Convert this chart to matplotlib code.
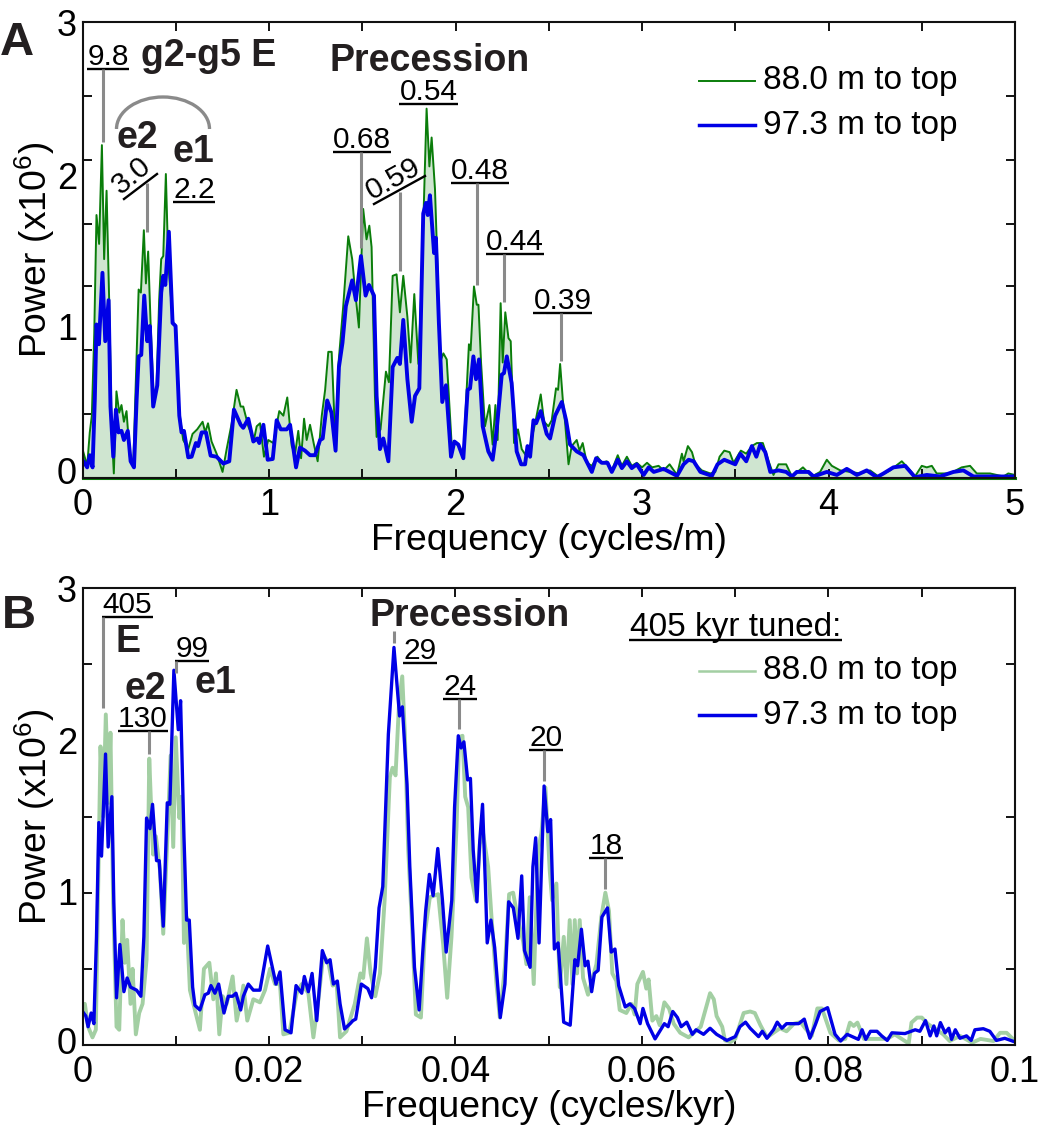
import matplotlib
matplotlib.use("Agg")
import matplotlib.pyplot as plt
from matplotlib.patches import Arc

plt.rcParams['font.family'] = ['Liberation Sans', 'DejaVu Sans']
plt.rcParams['mathtext.default'] = 'regular'

# panel A, 88.0 m
freq_a_green = [0, .025, .039, .05, .063, .075, .089, .104, .116, .129, .143, .157, .168, .182, .197, .209, .222, .236, .254, .272,
                .286, .301, .313, .329, .34, .352, .365, .383, .397, .411, .422, .433, .447, .46, .472, .487, .501, .519, .54, .567,
                .59, .615, .644, .658, .673, .692, .719, .751, .773, .8, .826, .848, .862, .889, .919, .934, .952, .973, .996, 1.023,
                1.055, 1.077, 1.098, 1.122, 1.14, 1.157, 1.172, 1.188, 1.202, 1.22, 1.241, 1.261, 1.283, 1.301, 1.318, 1.336, 1.35, 1.359,
                1.371, 1.398, 1.425, 1.446, 1.461, 1.482, 1.505, 1.523, 1.538, 1.55, 1.568, 1.577, 1.598, 1.627, 1.643, 1.663, 1.684, 1.702,
                1.72, 1.742, 1.759, 1.779, 1.801, 1.818, 1.845, 1.86, 1.872, 1.89, 1.903, 1.917, 1.935, 1.953, 1.979, 2.015, 2.042, 2.06,
                2.072, 2.081, 2.099, 2.114, 2.123, 2.137, 2.158, 2.182, 2.199, 2.214, 2.226, 2.242, 2.253, 2.267, 2.284, 2.296, 2.314, 2.335,
                2.355, 2.382, 2.403, 2.427, 2.457, 2.475, 2.498, 2.516, 2.539, 2.55, 2.561, 2.575, 2.588, 2.606, 2.623, 2.65, 2.665, 2.682,
                2.704, 2.731, 2.761, 2.785, 2.811, 2.838, 2.87, 2.892, 2.919, 2.945, 2.972, 3.0, 3.027, 3.054, 3.089, 3.116, 3.148, 3.188,
                3.214, 3.223, 3.246, 3.268, 3.286, 3.321, 3.366, 3.393, 3.416, 3.441, 3.47, 3.491, 3.53, 3.559, 3.589, 3.616, 3.648, 3.679,
                3.705, 3.732, 3.773, 3.804, 3.863, 3.911, 3.955, 3.991, 4.018, 4.063, 4.116, 4.17, 4.223, 4.268, 4.33, 4.393, 4.438, 4.464,
                4.5, 4.527, 4.554, 4.58, 4.652, 4.714, 4.759, 4.795, 4.866, 4.938, 4.964, 5.0]
power_a_green = [.19, .08, .30, .41, .95, 1.73, 1.54, 2.19, 1.44, 1.89, 1.17, .30, .03, .57, .43, .48, .37, .44, .14, .08,
                 .63, 1.24, 1.22, 1.63, 1.28, 1.49, 1.02, .49, .60, 1.17, 1.44, 1.46, 2.0, 1.41, 1.22, 1.02, 1.0, .43, .25, .19,
                 .29, .32, .37, .30, .36, .24, .16, .04, .19, .36, .58, .47, .47, .34, .25, .34, .36, .14, .25, .23,
                 .44, .41, .53, .21, .16, .31, .13, .39, .25, .35, .22, .11, .41, .58, .83, .83, .41, .175,
                 .73, 1.13, 1.59, 1.44, 1.24, .99, 1.77, 1.57, 1.66, 1.52, .54, .27, .32, .70, .63, 1.33, 1.34, 1.09,
                 1.33, 1.06, .76, 1.21, .75, 1.28, 2.43, 2.05, 2.24, 1.90, 1.41, .76, .82, .78, .23, .22, .14, .58,
                 .88, .84, 1.26, 1.14, 1.14, .76, .34, .48, .22, .48, .25, 1.15, .76, 1.09, .92, .90, .23, .32,
                 .19, .14, .23, .36, .55, .37, .34, .38, .59, .58, .75, .52, .36, .09, .21, .25, .18, .23,
                 .10, .08, .14, .10, .11, .05, .15, .08, .14, .08, .10, .07, .10, .07, .08, .05, .09, .02,
                 .16, .11, .21, .17, .09, .05, .03, .04, .14, .18, .17, .10, .18, .16, .21, .23, .23, .11,
                 .02, .09, .09, .01, .07, .01, .04, .12, .08, .05, .04, .03, .05, .01, .05, .11, .05, .01,
                 .08, .07, .08, .03, .03, .07, .08, .03, .03, .01, .03, .02]

# panel A, 97.3 m
freq_a_blue = [0, .025, .039, .054, .066, .075, .088, .107, .122, .14, .15, .165, .179, .193, .209, .222, .243, .258, .276, .29,
               .301, .315, .331, .347, .361, .379, .401, .422, .433, .444, .463, .483, .499, .519, .531, .544, .567, .585, .608, .62,
               .639, .662, .687, .719, .755, .787, .812, .848, .862, .889, .916, .937, .948, .97, .993, 1.02, 1.041, 1.063, 1.095, 1.113,
               1.145, 1.166, 1.193, 1.22, 1.247, 1.274, 1.288, 1.312, 1.335, 1.357, 1.375, 1.394, 1.412, 1.446, 1.466, 1.493, 1.518, 1.536,
               1.563, 1.577, 1.595, 1.613, 1.64, 1.663, 1.688, 1.702, 1.72, 1.742, 1.765, 1.783, 1.806, 1.827, 1.842, 1.851, 1.863, 1.885,
               1.895, 1.911, 1.929, 1.949, 1.976, 1.994, 2.015, 2.042, 2.065, 2.078, 2.096, 2.11, 2.126, 2.146, 2.176, 2.199, 2.221, 2.248,
               2.26, 2.275, 2.301, 2.328, 2.352, 2.373, 2.386, 2.4, 2.418, 2.432, 2.457, 2.489, 2.507, 2.534, 2.57, 2.593, 2.614, 2.65,
               2.686, 2.731, 2.754, 2.784, 2.815, 2.838, 2.87, 2.892, 2.919, 2.945, 2.972, 3.009, 3.036, 3.063, 3.116, 3.188, 3.223, 3.25,
               3.277, 3.313, 3.375, 3.405, 3.441, 3.5, 3.527, 3.559, 3.589, 3.613, 3.634, 3.661, 3.688, 3.732, 3.773, 3.804, 3.83, 3.893,
               3.92, 3.991, 4.045, 4.098, 4.152, 4.205, 4.259, 4.295, 4.348, 4.411, 4.464, 4.527, 4.598, 4.67, 4.723, 4.777, 4.884, 5.0]
power_a_blue = [.12, .07, .15, .07, .52, 1.01, .88, 1.35, .9, 1.17, .47, .14, .45, .30, .31, .25, .31, .11, .07, .51,
                .80, .81, 1.20, .90, 1.0, .47, .61, 1.22, 1.33, 1.27, 1.62, 1.02, 1.0, .41, .30, .31, .136, .14, .23, .21,
                .30, .30, .147, .14, .095, .11, .45, .35, .33, .39, .24, .26, .23, .35, .12, .125, .38, .32, .32, .35,
                .07, .20, .18, .15, .15, .25, .26, .51, .43, .18, .73, .89, 1.13, 1.30, 1.17, 1.46, 1.20, 1.27,
                1.20, .54, .19, .26, .11, .73, .79, .75, 1.04, .65, .37, .54, .59, 1.74, 1.81, 1.73, 1.86, 1.48,
                1.58, 1.02, .50, .61, .14, .24, .22, .13, .58, .59, .80, .65, .78, .34, .175, .12, .32, .68,
                .69, .80, .625, .175, .09, .09, .21, .14, .38, .36, .44, .29, .26, .41, .50, .38, .22, .175,
                .15, .04, .13, .10, .10, .04, .12, .065, .11, .065, .09, .02, .07, .04, .06, .014, .09, .12,
                .11, .04, .014, .09, .12, .09, .16, .11, .21, .14, .22, .17, .04, .05, .04, .01, .04, .04,
                .01, .04, .02, .06, .02, .05, .005, .03, .07, .08, .005, .02, .01, .04, .05, .01, .01, .01]

# panel B, 88.0 m
freq_b_green = [0, .00025, .0006, .00107, .00143, .00168, .00193, .00222, .0025, .00279, .003, .00329, .00365, .00394, .00429, .00454, .00479, .00515, .00537, .00572,
                .00608, .00644, .00687, .00716, .00741, .00758, .00787, .0083, .00866, .00902, .00945, .00973, .01, .01038, .01063, .01088, .01116, .01152, .01206, .01259,
                .01302, .0136, .01403, .01431, .01467, .01503, .01546, .0161, .01653, .01696, .01725, .01767, .01832, .01903, .01957, .02011, .02064, .02118, .02154, .02218,
                .02297, .02351, .02422, .02476, .0253, .02583, .02637, .02683, .02726, .02762,
                .0283, .0292, .0298, .0301, .0305, .0309, .0314, .0319, .0324, .03296, .03325, .03357, .03396, .03429, .03457, .03493, .03529, .03575, .03629, .03671,
                .03725, .03814, .03868, .03911, .03957, .04011, .04039, .04075, .04104, .04136, .04171, .04218, .04261, .04296, .0435, .04386, .04439, .04475, .04529, .04575,
                .04618, .04671, .04725, .04761, .04796, .04839, .04886, .04921, .04964, .05011, .05036, .05082, .05118, .05161, .05189, .05225, .05254, .05279, .05304, .05332,
                .05368, .05421, .05511, .05564, .05607, .05646, .05682, .05725, .05761, .05832, .05886, .05921, .0595, .0601, .06046, .06071, .06111, .06154, .0619,
                .0624, .0629, .0634, .0641, .065, .0663, .0668, .0673, .0677, .068, .0686, .0689, .0695, .07, .0709, .0716, .0721, .0727, .0734, .0741,
                .0748, .0755, .0763, .077, .0775, .0782, .0788, .0793, .0802, .0811, .0818, .0823, .0827, .0831, .0838, .0848, .0863, .0871, .0886, .0889,
                .0895, .09, .0907, .0916, .0923, .093, .0941, .0954, .0963, .0977, .0984, .0991, .1]
power_b_green = [.25, .27, .12, .05, .10, 1.04, 1.96, 1.5, 2.17, 1.59, 2.05, .93, .12, .10, .82, .54, .69, .27, .50, .07,
                 .21, .27, .56, 1.88, 1.48, 1.25, 1.37, 1.15, .73, 1.24, 1.90, 1.30, 2.02, 1.49, 1.63, .67, .84, .36, .23, .10,
                 .50, .54, .30, .47, .07, .32, .27, .45, .16, .28, .39, .16, .30, .28, .36, .50, .40, .40, .07, .08,
                 .34, .40, .34, .05, .30, .59, .54, .39, .40, .05,
                 .09, .27, .47, .44, .70, .47, .32, .47, .95, 1.76, 1.82, 1.77, 2.26, 2.42, 2.04, 1.28, .84, .20, .18, .73,
                 .97, .99, .66, .31, .71, 1.43, 2.02, 2.03, 1.63, 1.56, 1.10, .95, 1.32, 1.39, 1.17, .84, .40, .18, .51, .99,
                 1.0, .82, .68, .53, .97, .40, 1.28, 1.39, 1.69, 1.14, .95, 1.06, .38, .71, .40, .82, .40, .82, .47, .82,
                 .44, .33, .53, .84, 1.0, .88, .47, .42, .23, .21, .27, .20, .40, .48, .37, .43, .16, .19, .13,
                 .28, .24, .14, .08, .05, .12, .23, .34, .30, .19, .12, .03, .02, .04, .21, .22, .21, .13, .05, .08,
                 .11, .09, .14, .15, .11, .06, .24, .24, .08, .03, .04, .147, .125, .147, .04, .04, .04, .07, .01, .147,
                 .18, .18, .136, .10, .07, .026, .06, .015, .04, .026, .08, .08, .026]

# panel B, 97.3 m
freq_b_blue = [0, .00036, .0006, .00093, .00122, .0015, .00175, .00204, .00247, .00275, .00315, .00336, .00365, .00401, .00444, .00479, .00515, .0058, .00626, .00658,
               .00687, .00723, .00751, .00794, .00823, .00866, .00909, .00937, .0098, .01027, .01052, .01088, .01116, .01145, .01181, .01206, .01259, .01313, .01349, .01377,
               .0142, .0146, .01517, .01564, .0161, .01646, .01696, .01725, .01778, .01832, .01903, .01986, .02075, .02118, .02172, .02236, .0229, .02351, .02379, .02422,
               .02462, .02512, .02572, .02619, .02655, .02691, .02733, .02762,
               .0281, .0287, .029, .0293, .0299, .0306, .031, .0314, .0318, .0322, .0328, .0334, .034, .0343, .0348, .0351, .0356, .0361, .0365, .0368,
               .0372, .0376, .0381, .0386, .039, .0396, .0399, .0403, .0406, .0409, .0413, .0416, .0419, .0423, .0426, .0429, .0432, .0434, .0438, .0442,
               .0448, .0453, .0457, .0462, .0467, .0471, .0474, .048, .0483, .0486, .04896, .0495, .0499, .0502, .0506, .051, .0516, .0523, .0528, .0531,
               .0535, .0539, .0542, .0546, .0549, .0553, .0557, .0563, .0567, .0571, .0575, .0582, .0587, .0592, .0598, .0601, .0606, .0614, .0619,
               .0624, .0628, .0633, .0638, .0642, .0648, .0654, .0658, .0666, .0673, .068, .0691, .07, .0705, .0711, .0716, .0725, .0729, .0734, .0741,
               .0745, .075, .0755, .0768, .0774, .078, .0786, .0791, .0799, .0807, .0813, .082, .0832, .0836, .084, .0845, .0852, .0857, .0863, .0868,
               .0882, .0893, .0898, .0904, .0909, .0913, .0916, .092, .0925, .0929, .0932, .0936, .0941, .0948, .0953, .0957, .0966, .0973, .098, .0989, .1]
power_b_blue = [.22, .19, .12, .21, .14, .71, 1.46, 1.24, 1.91, 1.30, 1.63, .93, .31, .66, .35, .44, .38, .36, .32, .71,
                1.49, 1.42, 1.58, 1.21, 1.21, .78, 1.59, 1.58, 2.46, 2.07, 2.26, 1.37, .82, .82, .38, .26, .23, .33, .34, .39,
                .34, .40, .21, .32, .32, .34, .23, .32, .40, .36, .36, .65, .40, .48, .10, .08, .39, .34, .45, .35,
                .47, .16, .62, .54, .56, .40, .42, .27,
                .105, .14, .16, .17, .40, .37, .31, .51, .90, 1.04, 2.04, 2.61, 2.16, 2.22, 1.71, 1.17, .51, .23, .62, .88,
                1.12, .98, 1.29, .95, .61, .95, 1.56, 2.03, 1.95, 1.99, 1.74, 1.75, 1.28, .94, 1.34, 1.58, 1.06, .67, .82, .64,
                .18, .40, .94, .90, .70, 1.11, .62, .51, 1.17, 1.36, .67, 1.70, 1.40, 1.48, .63, .67, .15, .13, .56, .52,
                .76, .52, .55, .35, .47, .49, .84, .90, .61, .63, .39, .25, .27, .24, .14, .24, .14, .04, .09,
                .14, .12, .22, .18, .12, .15, .07, .10, .07, .11, .07, .03, .055, .12, .15, .11, .055, .09, .044, .10,
                .15, .11, .14, .14, .17, .044, .135, .22, .245, .07, .026, .07, .037, .10, .037, .09, .09, .06, .03, .08,
                .075, .10, .09, .16, .06, .125, .06, .147, .08, .11, .037, .10, .044, .06, .03, .10, .107, .09, .03, .044, .02]

xticks_a = [0, 1, 2, 3, 4, 5]
xminor_a = [.5, 1.5, 2.5, 3.5, 4.5]
xticks_b = [0, .02, .04, .06, .08, .1]
xticklabels_b = ['0', '0.02', '0.04', '0.06', '0.08', '0.1']
xminor_b = [.01, .03, .05, .07, .09]
ylabels = ['0', '1', '2', '3']
ylabel_pos_a = [.05, 1.0, 1.99, 3.0]
ylabel_pos_b = [.03, 1.01, 2.0, 3.0]
yminor_a = [.42, .84, 1.26, 1.67, 2.09, 2.51]
yminor_b = [.5, 1, 1.5, 2, 2.5]

W, H = 1041, 1130
GREEN = '#0a7d0a'
LGREEN = '#a3cfa3'
BLUE = '#0000e6'
GRAY = '#8a8a8a'
DARK = '#231f20'
FS = 26.8

fig = plt.figure(figsize=(W / 100, H / 100), dpi=100)


def make_axes(top, bottom):
    ax = fig.add_axes([82.5 / W, 1 - bottom / H, (1015 - 82.5) / W, (bottom - top) / H])
    ax.set_ylim(0, 3)
    for s in ax.spines.values():
        s.set_linewidth(1.5)
        s.set_color('#111111')
    return ax


def style(ax, xt, xl, xm, yp, ym, xlabel):
    ax.set_xticks(xt, xl)
    ax.set_xticks(xm, minor=True)
    ax.set_yticks(yp, ylabels)
    ax.set_yticks(ym, minor=True)
    ax.tick_params(axis='x', which='both', direction='in', top=True, length=6.5, width=1.3, labelsize=26, pad=7)
    ax.tick_params(axis='y', which='major', length=0, labelsize=26, pad=4)
    ax.tick_params(axis='y', which='minor', direction='in', right=True, length=6.5, width=1.3)
    ax.set_xlabel(xlabel, fontsize=FS, labelpad=0)
    ax.set_ylabel('Power (x10$^{6}$)', fontsize=FS, labelpad=0)


# A
ax1 = make_axes(22, 478)
ax1.set_xlim(0, 5)
ax1.fill_between(freq_a_green, power_a_green, 0, color='#cfe5d0', lw=0)
ax1.plot(freq_a_green, power_a_green, color=GREEN, lw=1.4)
ax1.plot(freq_a_blue, power_a_blue, color=BLUE, lw=2.8)
ax1.axhline(0, color=GREEN, lw=2.2, clip_on=False)
style(ax1, xticks_a, [str(v) for v in xticks_a], xminor_a, ylabel_pos_a, yminor_a, 'Frequency (cycles/m)')

# B
ax2 = make_axes(588, 1045)
ax2.set_xlim(0, .1)
ax2.plot(freq_b_green, power_b_green, color=LGREEN, lw=2.8)
ax2.plot(freq_b_blue, power_b_blue, color=BLUE, lw=2.4)
style(ax2, xticks_b, xticklabels_b, xminor_b, ylabel_pos_b, yminor_b, 'Frequency (cycles/kyr)')

# overlay in pixels for the hand placed notes
ov = fig.add_axes([0, 0, 1, 1])
ov.set_xlim(0, W)
ov.set_ylim(H, 0)
ov.axis('off')


def bold(x, y, s, size=27):
    ov.text(x, y, s, fontsize=size, fontweight='bold', color=DARK, ha='left', va='baseline')


def note(x0, x1, y, s, size=21.5):
    ov.plot([x0, x1], [y, y], color='#000000', lw=1.7, solid_capstyle='butt')
    ov.text((x0 + x1) / 2, y - 4, s, fontsize=size, color='#000000', ha='center', va='baseline')


def leader(x, y0, y1):
    ov.plot([x, x], [y0, y1], color=GRAY, lw=2.2, solid_capstyle='butt')


bold(0, 55, 'A', 34)
bold(2, 628, 'B', 34)

# A notes
note(87, 129, 69, '9.8')
leader(102.5, 69, 142)
bold(141, 66, 'g2-g5 E')
ov.add_patch(Arc((163, 129), 93, 64, theta1=180, theta2=360, color=GRAY, lw=2.4))
bold(117, 148, 'e2')
bold(172, 162, 'e1')
ov.plot([124, 157], [199, 174], color='#000000', lw=1.7)
ov.text(137, 182, '3.0', fontsize=21.5, rotation=40, rotation_mode='anchor', ha='center', va='baseline', color='#000000')
leader(147, 183, 232)
note(173, 215, 201.5, '2.2')
bold(330, 71, 'Precession')
note(399, 458, 103.7, '0.54')
note(333, 391, 152, '0.68')
leader(361, 152, 248)
ov.plot([374, 425], [204, 176], color='#000000', lw=1.7)
ov.text(397, 186, '0.59', fontsize=21.5, rotation=29, rotation_mode='anchor', ha='center', va='baseline', color='#000000')
leader(400, 192, 271)
note(451, 509, 183, '0.48')
leader(477, 183, 285)
note(486, 544, 254, '0.44')
leader(504, 254, 302)
note(533, 592, 313, '0.39')
leader(561, 313, 361)

# A legend
ov.plot([699, 755], [81, 81], color=GREEN, lw=1.4)
ov.plot([699, 755], [125, 125], color=BLUE, lw=2.5)
ov.text(763, 89, '88.0 m to top', fontsize=24, color='#000000', va='baseline')
ov.text(763, 134, '97.3 m to top', fontsize=24, color='#000000', va='baseline')

# B notes
note(102, 153, 617, '405')
leader(103, 617, 708)
bold(116, 652, 'E')
bold(124, 699, 'e2')
bold(195, 693, 'e1')
note(175, 209, 661, '99')
leader(175.7, 661, 673)
note(118, 168, 731, '130')
leader(149, 731, 754)
bold(370, 626, 'Precession')
leader(394, 631, 643)
note(403, 437, 663, '29')
note(443, 477, 699, '24')
leader(459, 699, 729)
note(529, 563, 750, '20')
leader(544, 750, 781)
note(589, 623, 858, '18')
leader(605, 858, 889)

# B legend
note(629, 842, 640, '405 kyr tuned:', 24)
ov.plot([699, 755], [671, 671], color=LGREEN, lw=1.8)
ov.plot([699, 755], [715, 715], color=BLUE, lw=2.5)
ov.text(763, 679, '88.0 m to top', fontsize=24, color='#000000', va='baseline')
ov.text(763, 724, '97.3 m to top', fontsize=24, color='#000000', va='baseline')

fig.savefig('out.png', dpi=100)
